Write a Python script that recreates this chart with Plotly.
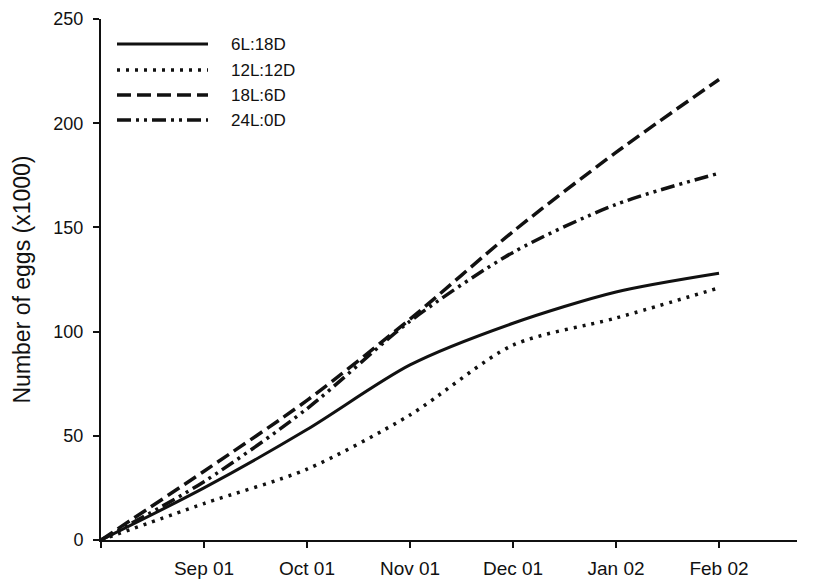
import plotly.graph_objects as go

# ---- data ----
months = [0, 1, 2, 3, 4, 5, 6]  # Aug 01 .. Feb 02 (month index)
tick_vals = [0, 1, 2, 3, 4, 5, 6]
tick_text = ["", "Sep 01", "Oct 01", "Nov 01", "Dec 01", "Jan 02", "Feb 02"]

eggs_6L18D = [0, 25, 53, 84, 104, 119, 128]
eggs_12L12D = [0, 17.5, 34, 60, 93.5, 106.5, 121]
eggs_18L6D = [0, 33, 67, 106, 148, 186, 221]
eggs_24L0D = [0, 28, 63, 105, 138, 161, 176]

series_names = ["6L:18D", "12L:12D", "18L:6D", "24L:0D"]
series_values = [eggs_6L18D, eggs_12L12D, eggs_18L6D, eggs_24L0D]
dashes = ["solid", "3px,6px", "14px,6px", "14px,5px,3px,5px,3px,5px"]
widths = [3, 3.5, 3.5, 3.5]
INK = "#111111"
FONT = "Liberation Sans, Arial, sans-serif"

# page body has an 8px margin, so the figure is sized to the visible area
FIG_W, FIG_H = 805, 575
L, R, T, B = 93, 16, 11, 43
W, H = FIG_W - L - R, FIG_H - T - B
OFF = 8  # body margin offset


def px_x(p):
    return (p - OFF - L) / W


def px_y(p):
    return (FIG_H - B - (p - OFF)) / H


fig = go.Figure()
for name, vals, d, w in zip(series_names, series_values, dashes, widths):
    fig.add_trace(go.Scatter(x=months, y=vals, mode="lines", name=name,
                             line=dict(color=INK, width=w, dash=d, shape="spline", smoothing=0.8),
                             showlegend=False))

# manual legend (long keys as in the reference)
rows = [44, 70, 95, 120]
for name, d, w, ry in zip(series_names, dashes, widths, rows):
    fig.add_shape(type="line", xref="paper", yref="paper",
                  x0=px_x(117), x1=px_x(208), y0=px_y(ry), y1=px_y(ry),
                  line=dict(color=INK, width=w, dash=d))
    fig.add_annotation(xref="paper", yref="paper", x=px_x(229), y=px_y(ry),
                       text=name, showarrow=False, xanchor="left", yanchor="middle",
                       font=dict(family=FONT, size=17, color=INK))

fig.update_layout(
    width=FIG_W, height=FIG_H,
    margin=dict(l=L, r=R, t=T, b=B, autoexpand=False),
    paper_bgcolor="white", plot_bgcolor="white",
    font=dict(family=FONT, size=17, color=INK),
    xaxis=dict(range=[0, 6.757], tickmode="array", tickvals=tick_vals, ticktext=tick_text,
               showgrid=False, zeroline=False, showline=True, linecolor=INK, linewidth=2,
               ticks="outside", ticklen=6, tickwidth=1.5, tickcolor=INK, automargin=False,
               ticklabelstandoff=4, tickfont=dict(size=19)),
    yaxis=dict(range=[0, 250], tickvals=[0, 50, 100, 150, 200, 250],
               showgrid=False, zeroline=False, showline=True, linecolor=INK, linewidth=2,
               ticks="outside", ticklen=6, tickwidth=1.5, tickcolor=INK, automargin=False,
               ticklabelstandoff=6, tickfont=dict(size=18),
               title=dict(text="Number of eggs (x1000)", font=dict(size=23), standoff=16)),
)

fig.write_html("out.html")
